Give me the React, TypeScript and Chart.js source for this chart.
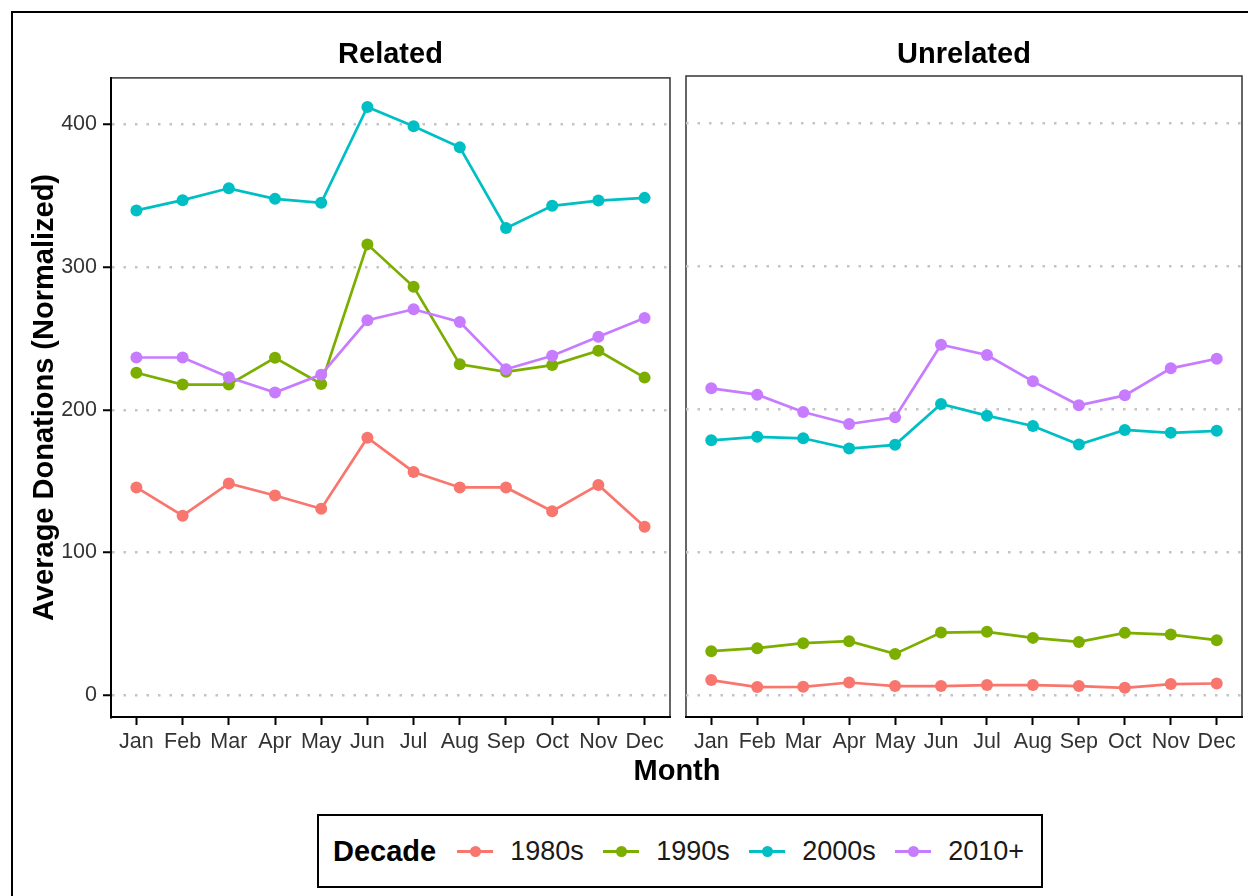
import React, { useEffect, useRef } from "react";
import { Chart, registerables } from "chart.js";

Chart.register(...registerables);

const months = ["Jan", "Feb", "Mar", "Apr", "May", "Jun", "Jul", "Aug", "Sep", "Oct", "Nov", "Dec"];
const decades = ["1980s", "1990s", "2000s", "2010+"];
const decadeColors = ["#F8766D", "#7CAE00", "#00BFC4", "#C77CFF"];
const panelTitles = ["Related", "Unrelated"];
const yTickValues = [0, 100, 200, 300, 400];

const related1980s = [145.6, 125.8, 148.4, 140.0, 130.7, 180.5, 156.5, 145.6, 145.6, 129.0, 147.4, 118.1];
const related1990s = [226.0, 217.7, 217.7, 236.5, 218.1, 316.0, 286.3, 231.9, 226.7, 231.4, 241.4, 222.6];
const related2000s = [339.8, 347.0, 355.3, 347.9, 345.1, 412.3, 398.8, 384.0, 327.4, 343.0, 346.7, 348.6];
const related2010s = [236.7, 236.7, 222.8, 212.1, 224.7, 262.8, 270.5, 261.6, 228.4, 237.9, 251.2, 264.4];

const unrelated1980s = [10.5, 5.6, 5.8, 8.8, 6.3, 6.3, 7.0, 7.0, 6.3, 5.1, 7.7, 8.1];
const unrelated1990s = [30.7, 32.8, 36.3, 37.7, 28.8, 43.7, 44.2, 40.0, 37.2, 43.5, 42.3, 38.4];
const unrelated2000s = [178.1, 180.5, 179.5, 172.3, 174.9, 203.5, 195.3, 188.1, 175.1, 185.3, 183.3, 184.7];
const unrelated2010s = [214.4, 210.0, 197.9, 189.5, 194.2, 244.9, 237.7, 219.3, 202.6, 209.5, 228.4, 235.1];

const FONT = '"Liberation Sans", Arial, Helvetica, sans-serif';

const panelBorder = {
  id: "panelBorder",
  beforeDraw(chart: any) {
    const { ctx, chartArea } = chart;
    ctx.save();
    ctx.strokeStyle = "#333333";
    ctx.lineWidth = 1.5;
    ctx.strokeRect(chartArea.left, chartArea.top, chartArea.right - chartArea.left, chartArea.bottom - chartArea.top);
    ctx.restore();
  },
};

function makeConfig(series: number[][], isLeft: boolean): any {
  return {
    type: "line",
    data: {
      datasets: series.map((vals, i) => ({
        label: decades[i],
        data: vals.map((v, j) => ({ x: j, y: v })),
        borderColor: decadeColors[i],
        backgroundColor: decadeColors[i],
        pointBackgroundColor: decadeColors[i],
        pointBorderWidth: 0,
        pointRadius: 6,
        borderWidth: 2.7,
        tension: 0,
        order: series.length - 1 - i,
      })),
    },
    plugins: [panelBorder],
    options: {
      animation: false,
      responsive: false,
      maintainAspectRatio: false,
      layout: {
        padding: isLeft
          ? { left: 28, top: 17, right: 6, bottom: 0 }
          : { left: 5, top: 17, right: 5, bottom: 0 },
      },
      plugins: {
        legend: { display: false },
        tooltip: { enabled: false },
      },
      scales: {
        x: {
          type: "linear",
          min: -0.55,
          max: 11.55,
          afterBuildTicks: (s: any) => {
            s.ticks = months.map((_, i) => ({ value: i }));
          },
          afterFit: (s: any) => {
            s.height = 62;
          },
          ticks: {
            callback: (v: any) => months[v],
            font: { family: FONT, size: 21.5 },
            color: "#333333",
            padding: 4,
            maxRotation: 0,
            autoSkip: false,
          },
          grid: {
            display: true,
            drawOnChartArea: false,
            drawTicks: true,
            tickLength: 8,
            tickWidth: 2,
            tickColor: "#000000",
            tickBorderDash: [],
          },
          border: { display: true, color: "#000000", width: 2 },
        },
        y: {
          min: -15.3,
          max: 432.7,
          afterBuildTicks: (s: any) => {
            s.ticks = yTickValues.map((v) => ({ value: v }));
          },
          afterFit: (s: any) => {
            s.width = isLeft ? 83 : 0;
          },
          ticks: {
            display: isLeft,
            font: { family: FONT, size: 21.5 },
            color: "#333333",
            padding: 6,
          },
          grid: {
            display: true,
            color: "#c4c4c4",
            lineWidth: 2.5,
            drawTicks: isLeft,
            tickLength: 8,
            tickWidth: 2,
            tickColor: "#000000",
            tickBorderDash: [],
          },
          border: { display: isLeft, color: "#000000", width: 2, dash: [2.5, 9] },
          title: {
            display: isLeft,
            text: "Average Donations (Normalized)",
            font: { family: FONT, size: 29, weight: "bold" },
            color: "#000000",
            padding: 0,
          },
        },
      },
    },
  };
}

function Panel(props: { series: number[][]; isLeft: boolean; left: number; width: number }) {
  const ref = useRef<HTMLCanvasElement>(null);
  useEffect(() => {
    if (!ref.current) return;
    const chart = new Chart(ref.current, makeConfig(props.series, props.isLeft));
    return () => chart.destroy();
  }, []);
  return (
    <canvas
      ref={ref}
      width={props.width}
      height={720}
      style={{ position: "absolute", left: props.left, top: 59, width: props.width, height: 720, display: "block" }}
    />
  );
}

export default function App() {
  return (
    <div
      style={{
        position: "absolute",
        left: 0,
        top: 0,
        width: 1248,
        height: 896,
        overflow: "hidden",
        background: "#ffffff",
        fontFamily: FONT,
      }}
    >
      <div
        style={{
          position: "absolute",
          left: 11,
          top: 11,
          width: 1400,
          height: 1000,
          borderTop: "2px solid #000",
          borderLeft: "2px solid #000",
        }}
      />
      <Panel series={[related1980s, related1990s, related2000s, related2010s]} isLeft={true} left={0} width={676} />
      <Panel series={[unrelated1980s, unrelated1990s, unrelated2000s, unrelated2010s]} isLeft={false} left={680} width={568} />
      <div
        style={{
          position: "absolute",
          left: 111,
          width: 559,
          top: 39,
          textAlign: "center",
          fontSize: 29,
          lineHeight: 1,
          fontWeight: "bold",
          color: "#000",
        }}
      >
        {panelTitles[0]}
      </div>
      <div
        style={{
          position: "absolute",
          left: 685,
          width: 558,
          top: 39,
          textAlign: "center",
          fontSize: 29,
          lineHeight: 1,
          fontWeight: "bold",
          color: "#000",
        }}
      >
        {panelTitles[1]}
      </div>
      <div
        style={{
          position: "absolute",
          left: 477,
          width: 400,
          top: 756,
          textAlign: "center",
          fontSize: 29,
          lineHeight: 1,
          fontWeight: "bold",
          color: "#000",
        }}
      >
        Month
      </div>
      <div
        style={{
          position: "absolute",
          left: 317,
          top: 814,
          width: 726,
          height: 74,
          boxSizing: "border-box",
          border: "2px solid #000",
          display: "flex",
          alignItems: "center",
          paddingLeft: 14,
        }}
      >
        <div style={{ fontSize: 29, fontWeight: "bold", color: "#000", marginRight: 21, lineHeight: 1 }}>Decade</div>
        {decades.map((d, i) => (
          <div key={d} style={{ display: "flex", alignItems: "center", width: 146, flex: "0 0 146px" }}>
            <div style={{ position: "relative", width: 36, height: 3, background: decadeColors[i] }}>
              <div
                style={{
                  position: "absolute",
                  left: 12.5,
                  top: -4,
                  width: 11,
                  height: 11,
                  borderRadius: "50%",
                  background: decadeColors[i],
                }}
              />
            </div>
            <div style={{ marginLeft: 17, fontSize: 27, color: "#1a1a1a", lineHeight: 1 }}>{d}</div>
          </div>
        ))}
      </div>
    </div>
  );
}
